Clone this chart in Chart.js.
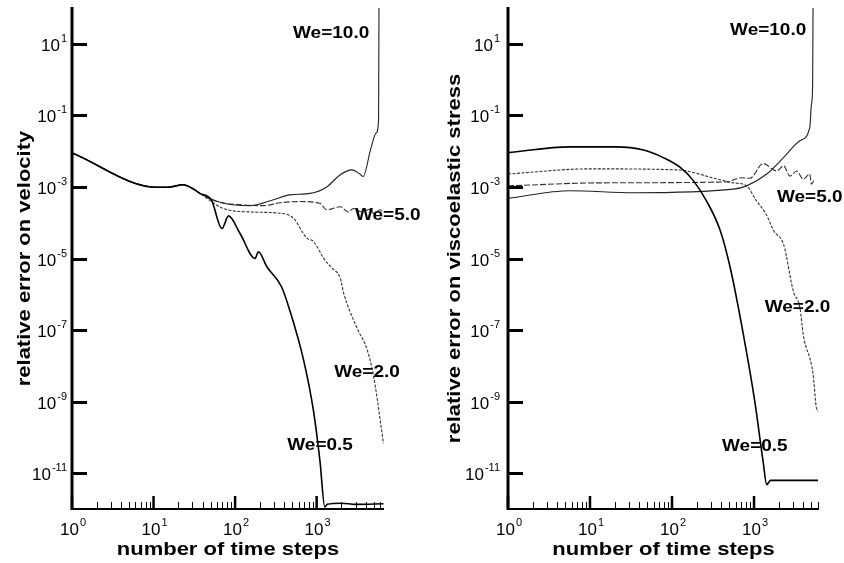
<!DOCTYPE html>
<html>
<head>
<meta charset="utf-8">
<script src="https://cdn.jsdelivr.net/npm/chart.js@4.4.0/dist/chart.umd.min.js"></script>
<style>
  html, body { margin: 0; padding: 0; background: #fff; }
  #wrap { display: flex; width: 844px; height: 563px; }
  canvas { display: block; }
</style>
</head>
<body>
<div id="wrap">
  <canvas id="velChart" width="422" height="563"></canvas>
  <canvas id="stressChart" width="422" height="563"></canvas>
</div>
<script>
// ===== Data: relative error on velocity (left) =====
const velSteps05 = [1, 11, 16, 23, 32, 37, 51, 69, 83, 115, 176, 193, 245, 372, 468, 692, 912, 1096, 1260, 1350, 2000, 3000, 6600];
const velErr05   = [8.9e-3, 9.8e-4, 1.0e-3, 1.15e-3, 8.3e-4, 6.6e-4, 4.4e-4, 6.9e-5, 1.55e-4, 5.0e-5, 1.0e-5, 1.55e-5, 5.9e-6, 1.6e-6, 3.6e-7, 1.45e-8, 5.8e-10, 2.3e-11, 1.15e-12, 1.35e-12, 1.45e-12, 1.35e-12, 1.4e-12];

const velSteps20 = [1, 11, 16, 23, 32, 37, 72, 151, 389, 525, 759, 912, 1260, 1550, 1950, 2140, 3090, 4170, 5010, 6600];
const velErr20   = [8.9e-3, 9.8e-4, 1.0e-3, 1.15e-3, 8.3e-4, 6.6e-4, 2.5e-4, 2.0e-4, 1.8e-4, 1.3e-4, 3.7e-5, 3.0e-5, 9.1e-6, 5.4e-6, 2.8e-6, 1.1e-6, 1.2e-7, 2.8e-8, 4.9e-9, 6.8e-11];

const velSteps50 = [1, 11, 16, 23, 32, 37, 60, 115, 224, 355, 631, 1096, 1330, 1950, 2450, 2820, 3550, 4570, 5010, 6030, 6600];
const velErr50   = [8.9e-3, 9.8e-4, 1.0e-3, 1.15e-3, 8.3e-4, 6.6e-4, 3.9e-4, 3.2e-4, 3.0e-4, 3.6e-4, 3.9e-4, 3.5e-4, 2.3e-4, 2.8e-4, 2.0e-4, 2.5e-4, 2.0e-4, 2.4e-4, 1.8e-4, 2.3e-4, 1.9e-4];

const velSteps100 = [1, 11, 16, 23, 32, 37, 72, 151, 295, 468, 832, 1330, 1950, 2690, 3390, 3720, 4570, 5370, 5750, 5820];
const velErr100   = [8.9e-3, 9.8e-4, 1.0e-3, 1.15e-3, 8.3e-4, 6.6e-4, 3.5e-4, 3.0e-4, 4.4e-4, 6.0e-4, 6.6e-4, 1.0e-3, 2.2e-3, 3.0e-3, 2.3e-3, 1.95e-3, 1.07e-2, 3.2e-2, 7.4e-2, 316];

// ===== Data: relative error on viscoelastic stress (right) =====
const strSteps05 = [1, 5.7, 21, 45, 78, 126, 182, 263, 389, 513, 741, 1023, 1288, 1430, 1585, 6030];
const strErr05   = [9.1e-3, 1.32e-2, 1.32e-2, 1.07e-2, 6.6e-3, 3.5e-3, 1.5e-3, 4.1e-4, 5.9e-5, 5.5e-6, 7.6e-8, 1.0e-9, 2.2e-11, 4.8e-12, 6.3e-12, 6.3e-12];

const strSteps20 = [1, 10, 115, 355, 562, 813, 1070, 1410, 1740, 2290, 3020, 3630, 3980, 5250, 5750, 6030];
const strErr20   = [2.3e-3, 3.2e-3, 3.0e-3, 1.66e-3, 1.3e-3, 1.07e-3, 4.1e-4, 1.7e-4, 5.9e-5, 2.5e-5, 1.2e-6, 4.2e-7, 7.6e-8, 5.8e-9, 6.8e-10, 5.4e-10];

const strSteps50 = [1, 13, 468, 690, 891, 1290, 1900, 2290, 2750, 3310, 3980, 4790, 5010, 5500];
const strErr50   = [1.07e-3, 1.3e-3, 1.38e-3, 1.8e-3, 1.74e-3, 4.5e-3, 2.8e-3, 3.9e-3, 2.0e-3, 2.8e-3, 1.66e-3, 2.3e-3, 1.2e-3, 1.66e-3];

const strSteps100 = [1, 5.7, 34, 562, 813, 1430, 2290, 3630, 4790, 5010, 5190, 5250];
const strErr100   = [4.8e-4, 7.8e-4, 6.9e-4, 8.7e-4, 1.07e-3, 2.3e-3, 6.6e-3, 1.95e-2, 4.6e-2, 0.2, 0.74, 316];

// ===== Axis ticks =====
const xTickExps = [0, 1, 2, 3];
const xMinorMults = [2, 3, 4, 5, 6, 7, 8, 9];
const yTickExps = [1, -1, -3, -5, -7, -9, -11];

const FONT = '"Liberation Sans", Arial, Helvetica, sans-serif';

// ===== Utility =====
function toPoints(xs, ys) {
  return xs.map((x, i) => ({ x: x, y: ys[i] }));
}

function drawPower(ctx, exp, x, y, align) {
  const base = '10';
  const sup = exp < 0 ? '-' + (-exp) : String(exp);
  ctx.font = '17px ' + FONT;
  const wb = ctx.measureText(base).width;
  ctx.font = '11px ' + FONT;
  const ws = ctx.measureText(sup).width;
  const total = wb + ws + 1;
  const x0 = align === 'right' ? x - total : x - total / 2;
  ctx.textAlign = 'left';
  ctx.textBaseline = 'alphabetic';
  ctx.font = '17px ' + FONT;
  ctx.fillText(base, x0, y);
  ctx.font = '11px ' + FONT;
  ctx.fillText(sup, x0 + wb + 1, y - 9.5);
}

function drawSquashed(ctx, text, x, y, font, sy, rot, align, baseline) {
  ctx.save();
  ctx.translate(x, y);
  if (rot) ctx.rotate(rot);
  ctx.scale(1, sy);
  ctx.font = font;
  ctx.textAlign = align;
  ctx.textBaseline = baseline;
  ctx.fillText(text, 0, 0);
  ctx.restore();
}

function seg(ctx, x1, y1, x2, y2, w) {
  ctx.lineWidth = w;
  ctx.beginPath();
  ctx.moveTo(x1, y1);
  ctx.lineTo(x2, y2);
  ctx.stroke();
}

// ===== Axes drawn like the paper figure (inward ticks, 10^n labels) =====
const paperAxes = {
  id: 'paperAxes',
  afterDraw(chart, args, opts) {
    const ctx = chart.ctx;
    const { left, right, top, bottom } = chart.chartArea;
    const xs = chart.scales.x;
    const ys = chart.scales.y;
    ctx.save();
    ctx.strokeStyle = '#000';
    ctx.fillStyle = '#000';

    // axis lines
    seg(ctx, left, top - 1, left, bottom + 1, 3);
    seg(ctx, left, bottom, right, bottom, 2);

    // y ticks + labels
    yTickExps.forEach(e => {
      const py = Math.round(ys.getPixelForValue(Math.pow(10, e))) + 0.5;
      seg(ctx, left, py, left + 15, py, 3);
      drawPower(ctx, e, left - opts.yLabelGap, py + 6.5, 'right');
    });

    // x ticks + labels
    xTickExps.forEach(d => {
      const dec = Math.pow(10, d);
      const px = xs.getPixelForValue(dec);
      seg(ctx, px, bottom, px, bottom - 13, 2.5);
      drawPower(ctx, d, px + 1, bottom + 26, 'center');
      xMinorMults.forEach(m => {
        const v = m * dec;
        if (v > xs.max) return;
        const mx = Math.round(xs.getPixelForValue(v)) + 0.5;
        seg(ctx, mx, bottom, mx, bottom - 7, 1);
      });
    });

    // axis titles
    const titleFont = 'bold 22px ' + FONT;
    drawSquashed(ctx, opts.xTitle, (left + right) / 2, chart.height - 8, titleFont, 0.85, 0, 'center', 'alphabetic');
    drawSquashed(ctx, opts.yTitle, opts.yTitleX, (top + bottom) / 2, titleFont, 0.85, -Math.PI / 2, 'center', 'alphabetic');

    // curve labels
    const labFont = 'bold 19px ' + FONT;
    opts.labels.forEach(l => {
      const px = xs.getPixelForValue(l.x);
      const py = ys.getPixelForValue(l.y);
      drawSquashed(ctx, l.text, px, py, labFont, 0.9, 0, 'left', 'middle');
    });
    ctx.restore();
  }
};

function makeSeries(label, xs, ys, style) {
  return Object.assign({
    label: label,
    data: toPoints(xs, ys),
    pointRadius: 0,
    fill: false,
    cubicInterpolationMode: 'monotone'
  }, style);
}

const style05 = { borderColor: '#000', borderWidth: 1.6 };
const style20 = { borderColor: '#333', borderWidth: 1.1, borderDash: [3, 1.5] };
const style50 = { borderColor: '#333', borderWidth: 1.1, borderDash: [6, 2] };
const style100 = { borderColor: '#222', borderWidth: 1.1 };

function chartCreate(canvasId, datasets, xMax, padding, axesOpts) {
  const ctx = document.getElementById(canvasId).getContext('2d');
  return new Chart(ctx, {
    type: 'line',
    data: { datasets: datasets },
    options: {
      responsive: false,
      animation: false,
      devicePixelRatio: 1,
      layout: { padding: padding },
      scales: {
        x: { type: 'logarithmic', min: 1, max: xMax, display: false },
        y: { type: 'logarithmic', min: 1e-12, max: 1e2, display: false }
      },
      plugins: {
        legend: { display: false },
        tooltip: { enabled: false },
        paperAxes: axesOpts
      }
    },
    plugins: [paperAxes]
  });
}

chartCreate('velChart', [
  makeSeries('We=0.5', velSteps05, velErr05, style05),
  makeSeries('We=2.0', velSteps20, velErr20, style20),
  makeSeries('We=5.0', velSteps50, velErr50, style50),
  makeSeries('We=10.0', velSteps100, velErr100, style100)
], 6700, { left: 72, right: 38, top: 8, bottom: 54 }, {
  xTitle: 'number of time steps',
  yTitle: 'relative error on velocity',
  yTitleX: 30,
  yLabelGap: 5,
  labels: [
    { text: 'We=10.0', x: 513, y: 20 },
    { text: 'We=5.0', x: 2950, y: 1.65e-4 },
    { text: 'We=2.0', x: 1640, y: 6.8e-9 },
    { text: 'We=0.5', x: 436, y: 6e-11 }
  ]
});

chartCreate('stressChart', [
  makeSeries('We=0.5', strSteps05, strErr05, style05),
  makeSeries('We=2.0', strSteps20, strErr20, style20),
  makeSeries('We=5.0', strSteps50, strErr50, style50),
  makeSeries('We=10.0', strSteps100, strErr100, style100)
], 6200, { left: 86, right: 25, top: 8, bottom: 54 }, {
  xTitle: 'number of time steps',
  yTitle: 'relative error on viscoelastic stress',
  yTitleX: 38,
  yLabelGap: 8,
  labels: [
    { text: 'We=10.0', x: 510, y: 24 },
    { text: 'We=5.0', x: 1900, y: 5.2e-4 },
    { text: 'We=2.0', x: 1350, y: 4.2e-7 },
    { text: 'We=0.5', x: 407, y: 5.8e-11 }
  ]
});
</script>
</body>
</html>
